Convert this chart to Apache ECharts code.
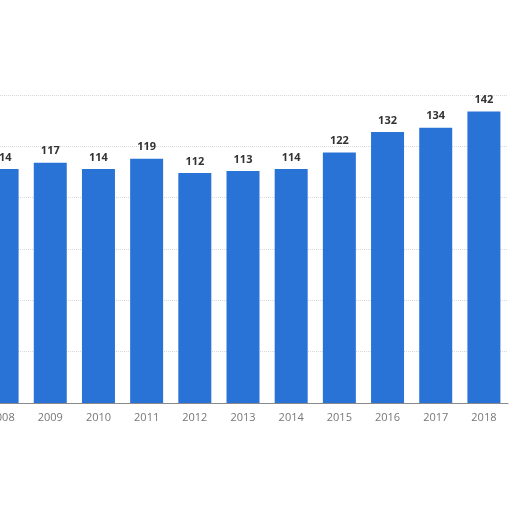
<!DOCTYPE html>
<html>
<head>
<meta charset="utf-8">
<script src="https://cdn.jsdelivr.net/npm/echarts@6/dist/echarts.min.js"></script>
<style>html,body{margin:0;padding:0;background:#fff;overflow:hidden;width:512px;height:512px;}#c{position:absolute;left:-22px;top:0;width:534px;height:512px;}</style>
</head>
<body>
<div id="c"></div>
<script>
var categories = ['2008','2009','2010','2011','2012','2013','2014','2015','2016','2017','2018'];
var values = [114,117,114,119,112,113,114,122,132,134,142];

var chart = echarts.init(document.getElementById('c'));
chart.setOption({
  animation: false,
  backgroundColor: '#ffffff',
  grid: { left: 0, right: 4, top: 95, bottom: 109 },
  xAxis: {
    type: 'category',
    data: categories,
    axisLine: { lineStyle: { color: '#8a8a8a', width: 1 } },
    axisTick: { show: false },
    axisLabel: { color: '#777', fontSize: 11, fontFamily: 'Open Sans', margin: 9 }
  },
  yAxis: {
    type: 'value',
    min: 0, max: 150, interval: 25,
    axisLabel: { show: false },
    axisLine: { show: false },
    axisTick: { show: false },
    splitLine: { lineStyle: { color: '#d8d8d8', type: 'dotted', width: 1 } }
  },
  series: [{
    type: 'bar',
    data: values,
    barWidth: 33,
    itemStyle: { color: '#2a73d6' },
    label: {
      show: true, position: 'top', distance: 6,
      color: '#333', fontSize: 11, fontWeight: 'bold', fontFamily: 'Open Sans'
    }
  }]
});
</script>
</body>
</html>
